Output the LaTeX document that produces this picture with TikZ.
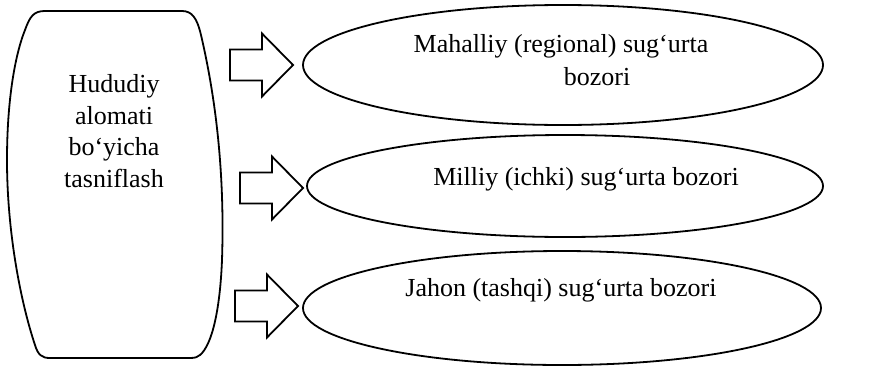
\documentclass[tikz,border=0pt]{standalone}
\usepackage{fontspec}
\setmainfont{Liberation Serif}
\usetikzlibrary{shapes.geometric}
\tikzset{
  line/.style={line width=1.8pt, black},
  oval/.style={line, draw, ellipse, inner sep=0pt},
  lbl/.style={font=\fontsize{26}{31.5}\selectfont, align=center, inner sep=0pt},
}
\newcommand{\blockarrow}[3]{% name, left x, center y
  \draw[line, line join=miter] (#2,#3-15.5) -- (#2+32,#3-15.5) -- (#2+32,#3-31.5) -- (#2+63,#3)
     -- (#2+32,#3+31.5) -- (#2+32,#3+15.5) -- (#2,#3+15.5) -- cycle;
  \coordinate (#1) at (#2+63,#3);
}
\begin{document}
\begin{tikzpicture}[x=1pt,y=-1pt]
\useasboundingbox (0,0) rectangle (890,367);
% left barrel-shaped box
\draw[line] (45,11) -- (182,11) .. controls (192,11) and (197,18) .. (201,35)
  .. controls (215,95) and (225,170) .. (222,260)
  .. controls (220,310) and (212,345) .. (200,355)
  .. controls (198,357) and (195,358) .. (190,358) -- (50,358)
  .. controls (42,358) and (38,355) .. (35,345)
  .. controls (20,300) and (7,230) .. (7,160)
  .. controls (7,100) and (15,55) .. (25,30)
  .. controls (30,16) and (34,11) .. (45,11) -- cycle;
\node[lbl] (src) at (114,131) {Hududiy\\alomati\\bo‘yicha\\tasniflash};
% ellipses
\node[oval, minimum width=520pt, minimum height=120pt] (e1) at (563,65) {};
\node[oval, minimum width=516pt, minimum height=102pt] (e2) at (565,186) {};
\node[oval, minimum width=518pt, minimum height=114pt] (e3) at (562,308) {};
\node[lbl] (t1a) at (561,46) {Mahalliy (regional) sug‘urta};
\node[lbl] (t1b) at (597,77) {bozori};
\node[lbl] (t2) at (586,179) {Milliy (ichki) sug‘urta bozori};
\node[lbl] (t3) at (561,290) {Jahon (tashqi) sug‘urta bozori};
% block arrows
\blockarrow{a1}{230}{65}
\blockarrow{a2}{240}{188}
\blockarrow{a3}{235}{306}
\end{tikzpicture}
\end{document}
